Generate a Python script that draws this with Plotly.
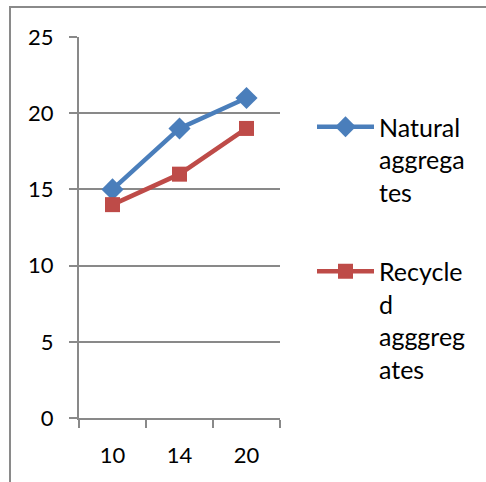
import plotly.graph_objects as go

# Sizes (x categories) and measured values for each aggregate type
sizes = ["10", "14", "20"]
natural = [15, 19, 21]
recycled = [14, 16, 19]
y_ticks = [0, 5, 10, 15, 20, 25]

BLUE = "#4A7EBB"
RED = "#BE4B48"
GRID = "#898989"
FONT = "Lato"

fig = go.Figure()
fig.add_trace(go.Scatter(
    x=sizes, y=natural, mode="lines+markers",
    name="Natural<br>aggrega<br>tes", legendgroup="a",
    line=dict(color=BLUE, width=4.5),
    marker=dict(symbol="diamond", size=17, color=BLUE),
))
fig.add_trace(go.Scatter(
    x=sizes, y=recycled, mode="lines+markers",
    name="Recycle<br>d<br>agggreg<br>ates", legendgroup="b",
    line=dict(color=RED, width=4.5),
    marker=dict(symbol="square", size=15, color=RED),
))

# Outer frame around the chart area (extends past the right and bottom edges)
L, R, T, B = 79, 280, 37, 418
W, H = 486, 482
def px_x(p):
    return (p - L) / (R - L)
def px_y(p):
    return (B - p) / (B - T)

fig.add_shape(type="rect", xref="paper", yref="paper",
              x0=px_x(10), x1=px_x(500), y0=px_y(500), y1=px_y(7),
              line=dict(color="#8a8a8a", width=2), fillcolor="rgba(0,0,0,0)",
              layer="below")

fig.update_layout(
    width=W, height=H,
    margin=dict(l=L, r=W - R, t=T, b=H - B),
    paper_bgcolor="white", plot_bgcolor="white",
    font=dict(family=FONT, size=22, color="#000000"),
    showlegend=True,
    legend=dict(
        x=px_x(312), y=px_y(104), xanchor="left", yanchor="top",
        font=dict(family=FONT, size=25, color="#000000"),
        valign="top", tracegroupgap=44, bgcolor="rgba(0,0,0,0)",
        itemwidth=57,
    ),
    xaxis=dict(
        type="category", range=[-0.5, 2.5],
        showline=True, linecolor=GRID, linewidth=2,
        ticks="outside", tickson="boundaries", ticklen=8,
        tickcolor=GRID, tickwidth=2,
        showgrid=False, zeroline=False,
        tickfont=dict(family=FONT, size=22),
        ticklabelstandoff=17,
    ),
    yaxis=dict(
        range=[0, 25], tickvals=y_ticks,
        showline=True, linecolor=GRID, linewidth=2,
        ticks="outside", ticklen=8, tickcolor=GRID, tickwidth=2,
        showgrid=True, gridcolor=GRID, gridwidth=2,
        zeroline=False,
        tickfont=dict(family=FONT, size=22),
        ticklabelstandoff=11,
    ),
)

fig.write_html("out.html")
